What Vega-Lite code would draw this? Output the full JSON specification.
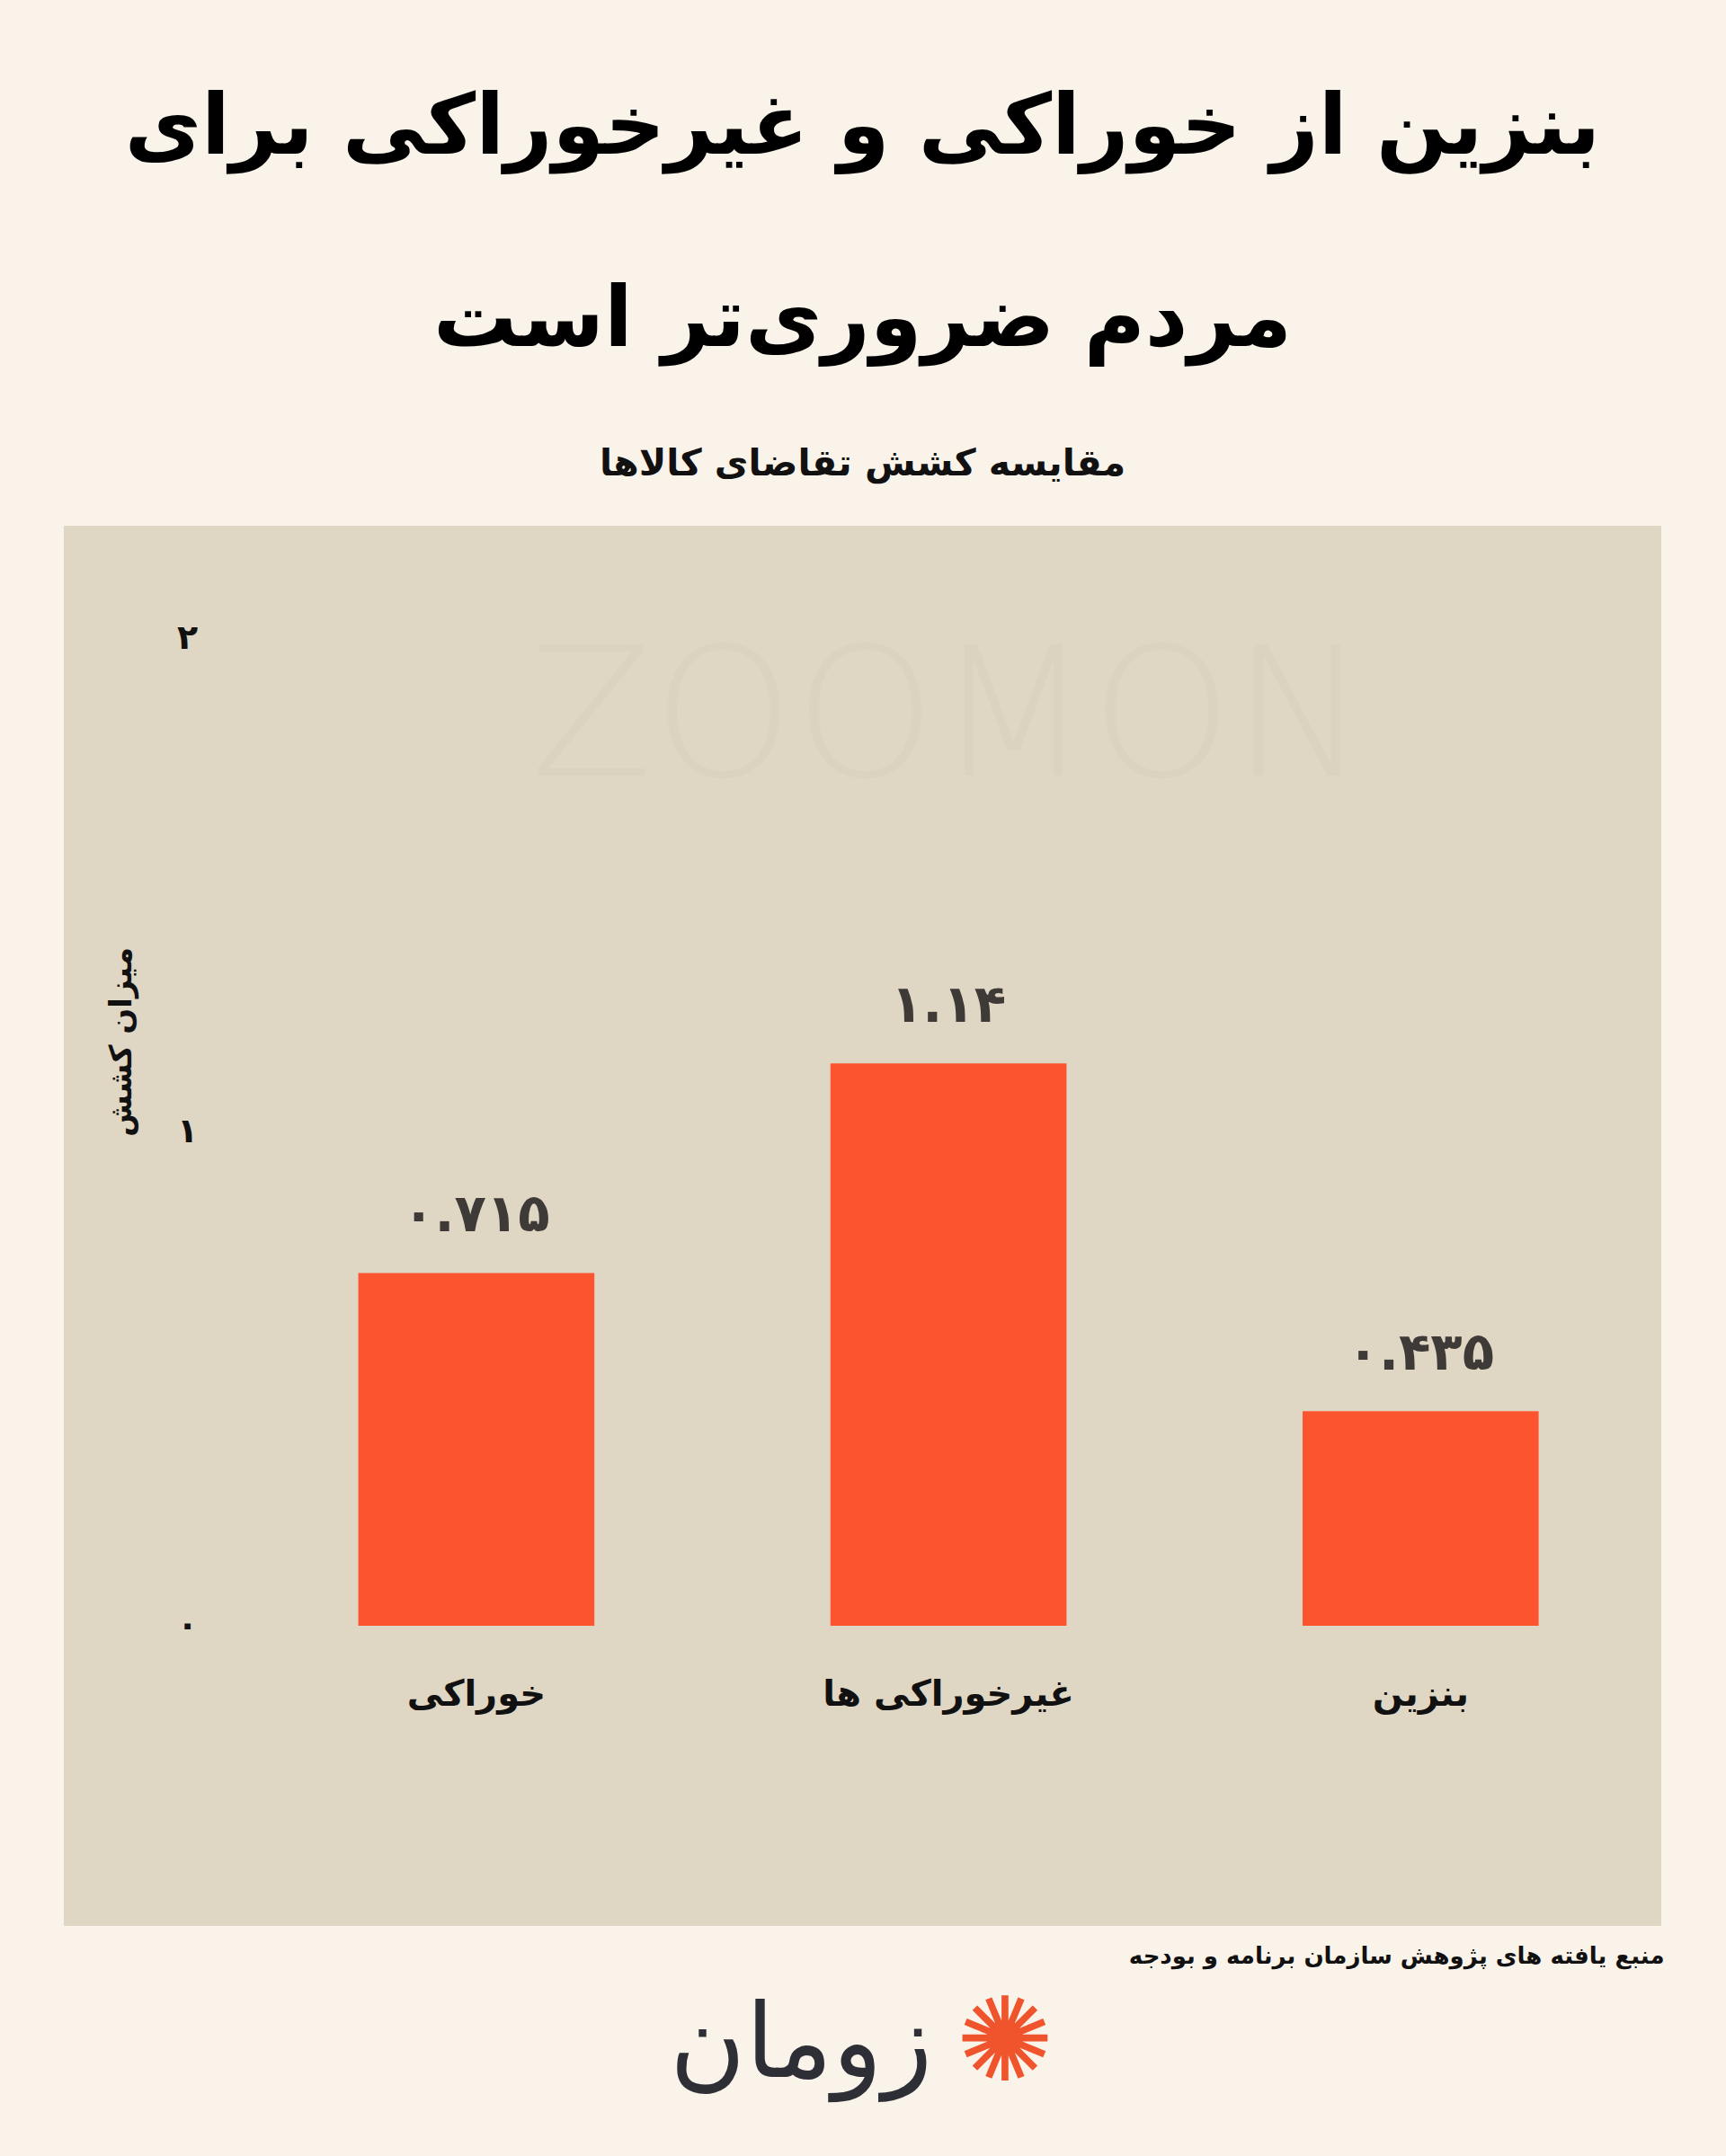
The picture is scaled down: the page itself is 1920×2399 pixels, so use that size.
{
  "$schema": "https://vega.github.io/schema/vega-lite/v6.json",
  "autosize": {"type": "none"},
  "width": 1777,
  "height": 1558,
  "padding": {"left": 71, "top": 585, "right": 72, "bottom": 256},
  "background": "#faf3ea",
  "config": {
    "locale": {"number": {"decimal": ".", "thousands": ",", "grouping": [3], "currency": ["", ""], "numerals": ["۰", "۱", "۲", "۳", "۴", "۵", "۶", "۷", "۸", "۹"]}},
    "view": {"fill": "#e0d6c4", "stroke": null},
    "font": "DejaVu Sans"
  },
  "title": {
    "text": ["بنزین از خوراکی و غیرخوراکی برای", "مردم ضروری‌تر است"],
    "subtitle": "مقایسه کشش تقاضای کالاها",
    "anchor": "middle",
    "font": "DejaVu Sans",
    "fontSize": 93,
    "fontWeight": "bold",
    "color": "#000000",
    "lineHeight": 214,
    "subtitleFont": "DejaVu Sans",
    "subtitleFontSize": 41,
    "subtitleFontWeight": "bold",
    "subtitleColor": "#111111",
    "subtitlePadding": 92,
    "offset": 47
  },
  "layer": [
    {
      "data": {"values": [{"mark": "ZOOMON"}]},
      "mark": {"type": "text", "fontSize": 200, "fontWeight": 200, "color": "#dcd2c0", "align": "center", "baseline": "middle"},
      "encoding": {
        "x": {"datum": "غیرخوراکی ها"},
        "y": {"datum": 1.832},
        "text": {"field": "mark"}
      }
    },
    {
      "data": {"values": [
        {"category": "خوراکی", "value": 0.715},
        {"category": "غیرخوراکی ها", "value": 1.14},
        {"category": "بنزین", "value": 0.435}
      ]},
      "layer": [
        {
          "mark": {"type": "bar", "color": "#fd5430"},
          "encoding": {
            "x": {
              "field": "category", "type": "nominal", "sort": null,
              "scale": {"domain": ["خوراکی", "غیرخوراکی ها", "بنزین"], "paddingInner": 0.5, "paddingOuter": 0.4417, "align": 0.706},
              "axis": {
                "orient": "bottom", "offset": -334, "domain": false, "ticks": false, "tickSize": 0, "grid": false,
                "labelAngle": 0, "labelAlign": "center", "labelLimit": 800, "labelPadding": 76, "labelBaseline": "middle", "labelFontSize": 40, "labelFontWeight": "bold", "labelColor": "#111111",
                "title": "منبع یافته های پژوهش سازمان برنامه و بودجه",
                "titleFontSize": 26, "titleFontWeight": "bold", "titleColor": "#111111",
                "titleAnchor": "end", "titleAlign": "right", "titleBaseline": "middle", "titleX": 1780, "titleY": 367
              }
            },
            "y": {
              "field": "value", "type": "quantitative",
              "scale": {"domain": [-0.6084, 2.2295], "nice": false, "zero": false},
              "axis": {
                "orient": "left", "offset": -137, "values": [0, 1, 2], "format": "d", "domain": false, "ticks": false, "tickSize": 0, "grid": false,
                "labelAlign": "center", "labelBaseline": "middle", "labelPadding": 0, "labelFontSize": 38, "labelFontWeight": "bold", "labelColor": "#111111",
                "title": "میزان کشش", "titleFontSize": 34, "titleFontWeight": "bold", "titleColor": "#111111",
                "titleAngle": -90, "titleAlign": "center", "titleBaseline": "middle", "titleX": -73, "titleY": 574
              }
            },
            "y2": {"datum": 0}
          }
        },
        {
          "mark": {"type": "text", "fontSize": 58, "fontWeight": "bold", "color": "#3e3a37", "baseline": "alphabetic", "align": "center", "dy": -46},
          "encoding": {
            "x": {"field": "category", "type": "nominal", "sort": null},
            "y": {"field": "value", "type": "quantitative"},
            "text": {"field": "value", "type": "quantitative", "format": ".3~r"}
          }
        }
      ]
    },
    {
      "data": {"values": [{"brand": "زومان", "icon": "✺"}]},
      "layer": [
        {
          "mark": {"type": "text", "fontSize": 115, "color": "#2d2e36", "align": "center", "baseline": "middle", "dx": -164},
          "encoding": {
            "x": {"datum": "غیرخوراکی ها"},
            "y": {"datum": -0.851},
            "text": {"field": "brand"}
          }
        },
        {
          "mark": {"type": "text", "fontSize": 130, "color": "#f0542c", "align": "center", "baseline": "middle", "dx": 63},
          "encoding": {
            "x": {"datum": "غیرخوراکی ها"},
            "y": {"datum": -0.851},
            "text": {"field": "icon"}
          }
        }
      ]
    }
  ]
}
